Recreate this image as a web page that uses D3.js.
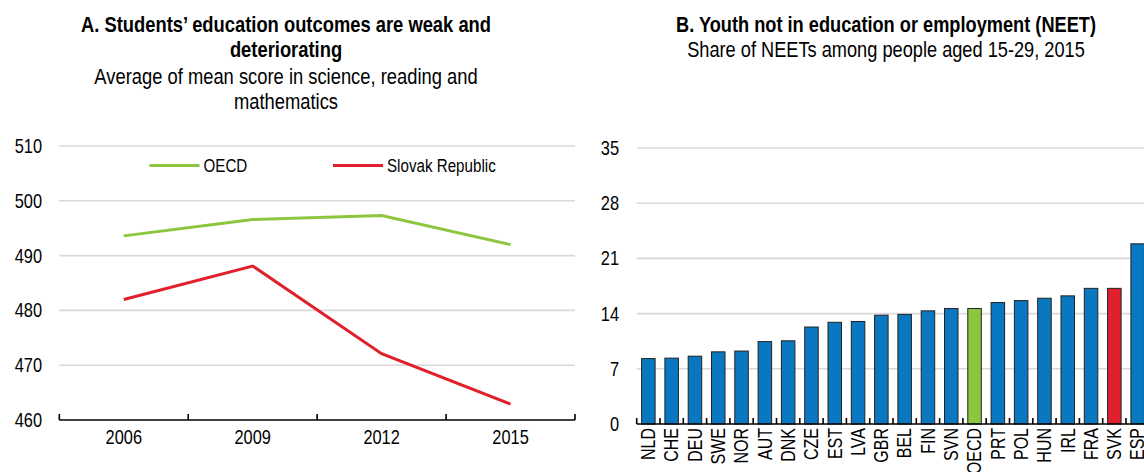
<!DOCTYPE html>
<html>
<head>
<meta charset="utf-8">
<script src="https://cdn.jsdelivr.net/npm/d3@7"></script>
<style>
  html, body { margin: 0; padding: 0; background: #fff; overflow: hidden; }
  svg { display: block; }
  text { font-family: "Liberation Sans Narrow", "Arial Narrow", "Liberation Sans", Arial, sans-serif; fill: #000; }
</style>
</head>
<body>
<svg id="chart" width="1144" height="472"></svg>
<script>
// ---- Panel A data ----
const years = ["2006", "2009", "2012", "2015"];
const oecdScores = [493.6, 496.6, 497.3, 492.0];
const slovakScores = [482.0, 488.1, 472.1, 462.9];
const scoreTicks = [460, 470, 480, 490, 500, 510];

// ---- Panel B data ----
const countries = ["NLD","CHE","DEU","SWE","NOR","AUT","DNK","CZE","EST","LVA","GBR","BEL","FIN","SVN","OECD","PRT","POL","HUN","IRL","FRA","SVK","ESP"];
const neetShares = [8.3, 8.35, 8.6, 9.15, 9.25, 10.45, 10.55, 12.3, 12.9, 13.0, 13.8, 13.9, 14.35, 14.65, 14.65, 15.4, 15.65, 15.95, 16.25, 17.2, 17.2, 22.85];
const neetTicks = [0, 7, 14, 21, 28, 35];

const colGreen = "#8cc63f", colRed = "#e0202a", colBlue = "#0a78c0", colGrid = "#d9d9d9";
const svg = d3.select("#chart");
const NARROW = 0.82;   // condensed look (Arial Narrow-like)

function label(g, x, y, str, size, opts = {}) {
  const rot = opts.rotate ? ` rotate(${opts.rotate})` : "";
  return g.append("text")
    .attr("transform", `translate(${x},${y})${rot} scale(${NARROW},1)`)
    .attr("dy", "0.35em")
    .attr("text-anchor", opts.anchor || "start")
    .attr("font-size", size)
    .attr("font-weight", opts.bold ? "bold" : "normal")
    .text(str);
}

// ================= Panel A =================
const gA = svg.append("g");
const xA = d3.scaleBand().domain(years).range([59.3, 575]).padding(0);
const yA = d3.scaleLinear().domain([460, 510]).range([420, 146]);

gA.selectAll("line.grid").data(scoreTicks.filter(d => d !== 460)).join("line")
  .attr("x1", 59.3).attr("x2", 575)
  .attr("y1", d => yA(d)).attr("y2", d => yA(d))
  .attr("stroke", colGrid).attr("stroke-width", 1.6);

scoreTicks.forEach(t => label(gA, 42, yA(t), String(t), 20, {anchor: "end"}));

gA.append("line").attr("x1", 59.3).attr("x2", 575).attr("y1", 420).attr("y2", 420)
  .attr("stroke", "#000").attr("stroke-width", 1.6);
const bndA = years.map(d => xA(d)).concat([xA(years[years.length-1]) + xA.bandwidth()]);
gA.selectAll("line.tick").data(bndA).join("line")
  .attr("x1", d => d).attr("x2", d => d).attr("y1", 420).attr("y2", 414)
  .attr("stroke", "#000").attr("stroke-width", 1.6);
years.forEach(y => label(gA, xA(y) + xA.bandwidth()/2, 437, y, 20, {anchor: "middle"}));

const lineA = d3.line().x((d, i) => xA(years[i]) + xA.bandwidth()/2).y(d => yA(d));
gA.append("path").datum(oecdScores).attr("d", lineA)
  .attr("fill", "none").attr("stroke", colGreen).attr("stroke-width", 3);
gA.append("path").datum(slovakScores).attr("d", lineA)
  .attr("fill", "none").attr("stroke", colRed).attr("stroke-width", 3);

// legend
const legend = [
  {name: "OECD", color: colGreen, x: 149.5},
  {name: "Slovak Republic", color: colRed, x: 333}
];
legend.forEach(l => {
  gA.append("line").attr("x1", l.x).attr("x2", l.x + 50).attr("y1", 165.5).attr("y2", 165.5)
    .attr("stroke", l.color).attr("stroke-width", 3);
  label(gA, l.x + 54, 165.5, l.name, 18.5);
});

// titles
label(gA, 286, 24, "A. Students’ education outcomes are weak and", 22.4, {anchor: "middle", bold: true});
label(gA, 286, 49, "deteriorating", 22.4, {anchor: "middle", bold: true});
label(gA, 286, 76, "Average of mean score in science, reading and", 22.4, {anchor: "middle"});
label(gA, 286, 101, "mathematics", 22.4, {anchor: "middle"});

// ================= Panel B =================
const gB = svg.append("g");
const step = 23.3;
const x0B = 636.7;
const xB = d3.scaleBand().domain(countries).range([x0B, x0B + step * countries.length]).paddingInner(0.42).paddingOuter(0.21);
const yB = d3.scaleLinear().domain([0, 35]).range([424, 148]);
const endB = x0B + step * countries.length;

gB.selectAll("line.grid").data(neetTicks.filter(d => d !== 0)).join("line")
  .attr("x1", x0B).attr("x2", endB)
  .attr("y1", d => yB(d)).attr("y2", d => yB(d))
  .attr("stroke", colGrid).attr("stroke-width", 1.6);

neetTicks.forEach(t => label(gB, 619, yB(t), String(t), 20, {anchor: "end"}));

gB.selectAll("rect.bar").data(countries).join("rect")
  .attr("x", d => xB(d)).attr("width", xB.bandwidth())
  .attr("y", (d, i) => yB(neetShares[i])).attr("height", (d, i) => yB(0) - yB(neetShares[i]))
  .attr("fill", d => d === "OECD" ? colGreen : (d === "SVK" ? colRed : colBlue))
  .attr("stroke", "#222").attr("stroke-width", 1);

gB.append("line").attr("x1", x0B).attr("x2", endB).attr("y1", 424).attr("y2", 424)
  .attr("stroke", "#000").attr("stroke-width", 1.6);
const bndB = d3.range(countries.length + 1).map(i => x0B + i * step);
gB.selectAll("line.tick").data(bndB).join("line")
  .attr("x1", d => d).attr("x2", d => d).attr("y1", 424).attr("y2", 418)
  .attr("stroke", "#000").attr("stroke-width", 1.6);

countries.forEach(c => label(gB, xB(c) + xB.bandwidth()/2, 428, c, 19.5, {anchor: "end", rotate: -90}));

label(gB, 886, 24, "B. Youth not in education or employment (NEET)", 22.2, {anchor: "middle", bold: true});
label(gB, 886, 49, "Share of NEETs among people aged 15-29, 2015", 22.2, {anchor: "middle"});
</script>
</body>
</html>
